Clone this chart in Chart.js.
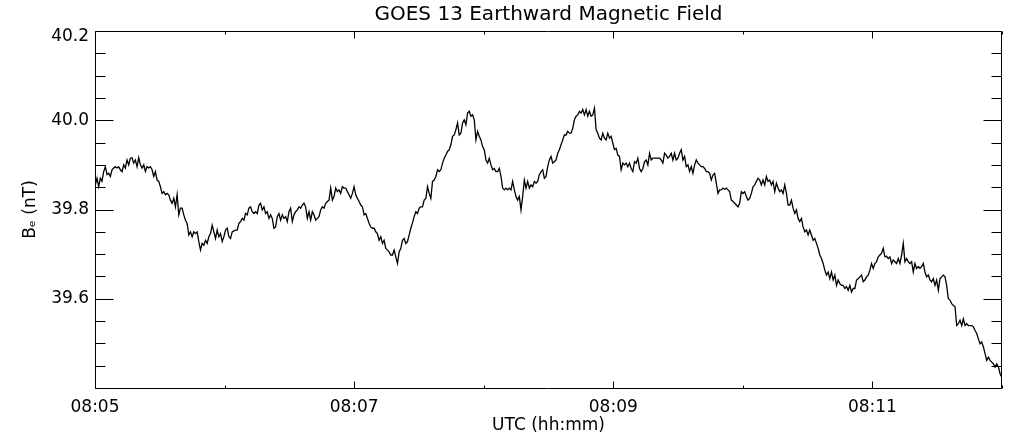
<!DOCTYPE html>
<html>
<head>
<meta charset="utf-8">
<script src="https://cdn.jsdelivr.net/npm/chart.js@4.4.1/dist/chart.umd.min.js"></script>
<style>
  html, body { margin: 0; padding: 0; background: #fff; }
  #wrap { width: 1011px; height: 440px; }
</style>
</head>
<body>
<div id="wrap"><canvas id="chart" width="1011" height="440"></canvas></div>
<script>
// Texts
const chartTitle = 'GOES 13 Earthward Magnetic Field';
const timeAxisTitle = 'UTC (hh:mm)';
const fieldAxisTitle = 'Bₑ (nT)';

// Time axis: seconds after 08:05:00 UTC
const timeRange = [0, 420];
const timeTickSeconds = [0, 120, 240, 360];
const timeTickLabels = ['08:05', '08:07', '08:09', '08:11'];
const timeMinorSeconds = [60, 180, 300, 420];

// Field axis (nT)
const fieldRange = [39.4, 40.2];
const fieldTickValues = [39.6, 39.8, 40.0, 40.2];
const fieldTickLabels = ['39.6', '39.8', '40.0', '40.2'];
const fieldMinorStep = 0.05;

// Magnetometer samples: first sample time and cadence (s)
const firstSampleSec = 0.15;
const cadenceSec = 0.773;

// Earthward component, nT, in time order
const fieldPart1 = [
  39.855, 39.870, 39.851, 39.870, 39.863, 39.885, 39.896, 39.878, 39.881, 39.874,
  39.889, 39.893, 39.896, 39.893, 39.896, 39.889, 39.885, 39.900, 39.893, 39.911,
  39.900, 39.915, 39.916, 39.904, 39.911, 39.896, 39.916, 39.900, 39.893, 39.900,
  39.885, 39.896, 39.893, 39.896, 39.889, 39.874, 39.885, 39.866, 39.863, 39.851,
  39.836, 39.840, 39.833, 39.836, 39.833, 39.821, 39.814, 39.825, 39.806, 39.833,
  39.788, 39.803, 39.803, 39.788, 39.776, 39.769, 39.743, 39.750, 39.739, 39.750,
  39.746, 39.750, 39.728, 39.709, 39.724, 39.720, 39.731, 39.724, 39.739, 39.746,
  39.765, 39.750, 39.735, 39.754, 39.739, 39.746, 39.728, 39.739, 39.754, 39.758,
  39.739, 39.735, 39.750, 39.752, 39.754, 39.754, 39.769, 39.773, 39.780, 39.776,
  39.791, 39.788, 39.803, 39.806, 39.795
];
const fieldPart2 = [
  39.791, 39.795, 39.791, 39.810, 39.814, 39.799, 39.806, 39.791, 39.795, 39.780,
  39.788, 39.780, 39.758, 39.761, 39.784, 39.791, 39.776, 39.788, 39.780, 39.784,
  39.773, 39.795, 39.803, 39.773, 39.788, 39.795, 39.799, 39.806, 39.803, 39.810,
  39.814, 39.806, 39.780, 39.795, 39.776, 39.795, 39.788, 39.776, 39.780, 39.784,
  39.799, 39.806, 39.803, 39.814, 39.818, 39.821, 39.848, 39.821, 39.829, 39.848,
  39.840, 39.844, 39.836, 39.851, 39.848, 39.848, 39.840, 39.833, 39.825, 39.836,
  39.851, 39.833, 39.825, 39.818, 39.810, 39.806, 39.788, 39.791, 39.780, 39.769,
  39.761, 39.758, 39.758, 39.750, 39.746, 39.731, 39.739, 39.724, 39.731, 39.713,
  39.709, 39.705, 39.698, 39.698, 39.709, 39.694, 39.679, 39.705, 39.713, 39.731,
  39.735, 39.724, 39.728, 39.743, 39.758, 39.770
];
const fieldPart3 = [
  39.784, 39.795, 39.791, 39.803, 39.806, 39.806, 39.821, 39.825, 39.851, 39.836,
  39.825, 39.863, 39.866, 39.874, 39.889, 39.885, 39.889, 39.904, 39.915, 39.922,
  39.930, 39.934, 39.945, 39.964, 39.967, 39.979, 39.994, 39.967, 39.971, 39.994,
  40.001, 39.990, 40.016, 40.020, 40.009, 40.012, 40.001, 39.956, 39.975, 39.964,
  39.956, 39.941, 39.934, 39.911, 39.904, 39.915, 39.900, 39.889, 39.892, 39.885,
  39.885, 39.892, 39.874, 39.848, 39.844, 39.848, 39.844, 39.848, 39.844, 39.863,
  39.844, 39.829, 39.821, 39.829, 39.799, 39.829, 39.866, 39.848, 39.863, 39.848,
  39.855, 39.851, 39.863, 39.859, 39.863, 39.878, 39.885, 39.889, 39.870, 39.874,
  39.896, 39.911, 39.919, 39.904, 39.907, 39.911, 39.926, 39.934, 39.945, 39.956,
  39.967
];
const fieldPart4 = [
  39.967, 39.975, 39.971, 39.971, 39.982, 40.001, 40.009, 40.012, 40.020, 40.016,
  40.024, 40.012, 40.024, 40.009, 40.020, 40.009, 40.012, 40.027, 39.979, 39.971,
  39.960, 39.956, 39.971, 39.960, 39.956, 39.971, 39.960, 39.964, 39.949, 39.934,
  39.937, 39.922, 39.919, 39.889, 39.904, 39.900, 39.904, 39.896, 39.904, 39.892,
  39.885, 39.907, 39.904, 39.915, 39.892, 39.885, 39.892, 39.907, 39.911, 39.900,
  39.926, 39.911, 39.915, 39.915, 39.915, 39.915, 39.915, 39.911, 39.904, 39.926,
  39.922, 39.915, 39.919, 39.926, 39.911, 39.926, 39.911, 39.915, 39.926, 39.934,
  39.911, 39.919, 39.896, 39.900, 39.885, 39.896, 39.881, 39.900, 39.911, 39.904,
  39.900, 39.896, 39.896, 39.892, 39.885, 39.885, 39.881, 39.866, 39.877, 39.881,
  39.859, 39.836
];
const fieldPart5 = [
  39.844, 39.844, 39.848, 39.845, 39.848, 39.844, 39.840, 39.821, 39.818, 39.814,
  39.810, 39.806, 39.814, 39.840, 39.836, 39.840, 39.829, 39.821, 39.825, 39.836,
  39.851, 39.855, 39.863, 39.870, 39.866, 39.855, 39.866, 39.855, 39.874, 39.863,
  39.866, 39.855, 39.863, 39.840, 39.859, 39.848, 39.840, 39.844, 39.836, 39.855,
  39.836, 39.810, 39.810, 39.821, 39.803, 39.791, 39.799, 39.780, 39.773, 39.780,
  39.761, 39.750, 39.754, 39.743, 39.754, 39.743, 39.731, 39.735, 39.724, 39.713,
  39.698, 39.690, 39.679, 39.664, 39.653, 39.660, 39.645, 39.660, 39.642, 39.653,
  39.630, 39.642, 39.634, 39.630, 39.630, 39.623, 39.627, 39.619, 39.630, 39.615,
  39.623, 39.623, 39.642, 39.645, 39.649, 39.653, 39.638, 39.642
];
const fieldPart6 = [
  39.649, 39.653, 39.664, 39.679, 39.668, 39.679, 39.683, 39.694, 39.698, 39.702,
  39.713, 39.694, 39.695, 39.690, 39.694, 39.679, 39.687, 39.683, 39.679, 39.690,
  39.679, 39.698, 39.724, 39.683, 39.690, 39.683, 39.679, 39.683, 39.660, 39.679,
  39.668, 39.672, 39.668, 39.672, 39.679, 39.660, 39.649, 39.653, 39.642, 39.638,
  39.645, 39.630, 39.642, 39.619, 39.645, 39.649, 39.653, 39.649, 39.630, 39.600,
  39.597, 39.589, 39.585, 39.582, 39.540, 39.544, 39.552, 39.540, 39.555, 39.540,
  39.544, 39.540, 39.540, 39.540, 39.537, 39.529, 39.522, 39.510, 39.499, 39.503,
  39.492, 39.477, 39.462, 39.469, 39.462, 39.458, 39.454, 39.447, 39.454, 39.447,
  39.432, 39.424
];

const fieldNT = [].concat(fieldPart1, fieldPart2, fieldPart3, fieldPart4, fieldPart5, fieldPart6);
const samples = fieldNT.map((v, i) => ({ x: firstSampleSec + i * cadenceSec, y: v }));

// Plot frame with inward tick marks on all four sides
const frameTicks = {
  id: 'frameTicks',
  afterDatasetsDraw(chart) {
    const { ctx, chartArea: a, scales: { x, y } } = chart;
    const L = Math.round(a.left) + 0.5, R = Math.round(a.right) - 0.5;
    const T = Math.round(a.top) + 0.5, B = Math.round(a.bottom) + 0.5;
    ctx.save();
    ctx.strokeStyle = '#000';
    ctx.lineWidth = 1;
    ctx.beginPath();
    ctx.rect(L, T, R - L, B - T);
    const nMinor = Math.round((fieldRange[1] - fieldRange[0]) / fieldMinorStep);
    for (let k = 0; k <= nMinor; k++) {
      const v = fieldRange[0] + k * fieldMinorStep;
      const py = Math.round(y.getPixelForValue(v)) + 0.5;
      const len = (k % 4 === 0) ? 18 : 10;
      ctx.moveTo(L, py); ctx.lineTo(L + len, py);
      ctx.moveTo(R, py); ctx.lineTo(R - len, py);
    }
    const drawX = (s, len) => {
      const px = Math.round(x.getPixelForValue(s)) + 0.5;
      ctx.moveTo(px, B); ctx.lineTo(px, B - len);
      ctx.moveTo(px, T); ctx.lineTo(px, T + len);
    };
    timeTickSeconds.forEach(s => drawX(s, 7));
    timeMinorSeconds.forEach(s => drawX(s, 3));
    ctx.stroke();
    ctx.restore();
  }
};

Chart.defaults.font.family = '"DejaVu Sans", sans-serif';
Chart.defaults.color = '#000';

const topFieldTick = fieldTickValues.length - 1;

new Chart(document.getElementById('chart'), {
  type: 'line',
  data: {
    datasets: [{
      data: samples,
      borderColor: '#000',
      borderWidth: 1.3,
      pointRadius: 0,
      tension: 0,
      fill: false
    }]
  },
  options: {
    responsive: false,
    animation: false,
    devicePixelRatio: 1,
    parsing: false,
    layout: { padding: { top: 0, left: 0, right: 9, bottom: 0 } },
    plugins: {
      legend: { display: false },
      tooltip: { enabled: false },
      title: {
        display: true,
        text: chartTitle,
        fullSize: false,
        font: { size: 20, weight: 'normal', lineHeight: 1.2 },
        color: '#000',
        padding: { top: 2.5, bottom: 4.5 }
      }
    },
    scales: {
      x: {
        type: 'linear',
        min: timeRange[0],
        max: timeRange[1],
        afterBuildTicks: s => { s.ticks = timeTickSeconds.map(v => ({ value: v })); },
        afterFit: s => { s.height = 52; },
        grid: { display: false, drawTicks: false },
        border: { display: false },
        ticks: {
          autoSkip: false,
          maxRotation: 0,
          padding: 9,
          font: { size: 17 },
          color: '#000',
          callback: (v, i) => timeTickLabels[i]
        },
        title: {
          display: true,
          text: timeAxisTitle,
          font: { size: 17, lineHeight: 1.2 },
          color: '#000',
          padding: { top: 0, bottom: 4 }
        }
      },
      y: {
        type: 'linear',
        min: fieldRange[0],
        max: fieldRange[1],
        afterBuildTicks: s => { s.ticks = fieldTickValues.map(v => ({ value: v })); },
        afterFit: s => { s.width = 95; },
        grid: { display: false, drawTicks: false },
        border: { display: false },
        ticks: {
          padding: 6,
          // the top label sits just below the frame corner
          font: c => ({ size: 17, lineHeight: c.index === topFieldTick ? 0.6 : 1.2 }),
          color: '#000',
          callback: (v, i) => (i === topFieldTick ? ['', fieldTickLabels[i]] : fieldTickLabels[i])
        },
        title: {
          display: true,
          text: fieldAxisTitle,
          font: { size: 17, lineHeight: 1.2 },
          color: '#000',
          padding: { top: 20, bottom: 0 }
        }
      }
    }
  },
  plugins: [frameTicks]
});
</script>
</body>
</html>
